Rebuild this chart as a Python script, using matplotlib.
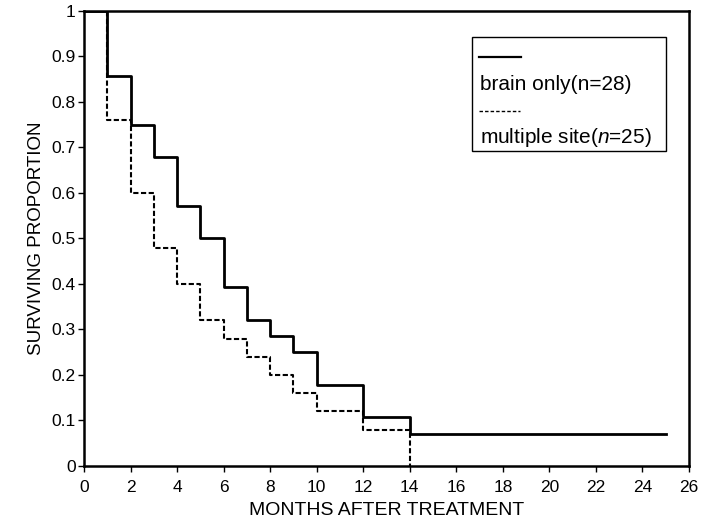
import matplotlib.pyplot as plt
from matplotlib.patches import Rectangle

plt.rcParams['font.family'] = ['Liberation Sans', 'DejaVu Sans']
plt.rcParams['mathtext.fontset'] = 'custom'
plt.rcParams['mathtext.rm'] = 'Liberation Sans'
plt.rcParams['mathtext.it'] = 'Liberation Sans:italic'

# Kaplan-Meier steps
brain_months = [0, 1, 2, 3, 4, 5, 6, 7, 8, 9, 10, 12, 14, 25]
brain_surv = [1.0, 0.857, 0.75, 0.679, 0.571, 0.5, 0.393, 0.321, 0.286, 0.25, 0.179, 0.107, 0.071, 0.071]

multi_months = [0, 1, 2, 3, 4, 5, 6, 7, 8, 9, 10, 12, 14]
multi_surv = [1.0, 0.76, 0.6, 0.48, 0.4, 0.32, 0.28, 0.24, 0.2, 0.16, 0.12, 0.08, 0.0]

brain_label = 'brain only(n=28)'
multi_label = 'multiple site($n$=25)'

x_ticks = list(range(0, 27, 2))
y_ticks = [0, 0.1, 0.2, 0.3, 0.4, 0.5, 0.6, 0.7, 0.8, 0.9, 1]
y_tick_labels = ['0', '0.1', '0.2', '0.3', '0.4', '0.5', '0.6', '0.7', '0.8', '0.9', '1']

fig = plt.figure(figsize=(7.02, 5.18), dpi=100)
ax = fig.add_axes([0.1197, 0.1004, 0.8618, 0.8784])

ax.step(brain_months, brain_surv, where='post', color='black', lw=2.0)
ax.step(multi_months, multi_surv, where='post', color='black', lw=1.5,
        linestyle=(0, (2.5, 1.2)))

ax.set_xlim(0, 26)
ax.set_ylim(0, 1)
ax.set_xticks(x_ticks)
ax.set_yticks(y_ticks)
ax.set_yticklabels(y_tick_labels)
ax.tick_params(direction='out', length=4, width=1, labelsize=12.5, colors='black')
ax.tick_params(axis='x', pad=6)
ax.tick_params(axis='y', pad=2)
for s in ax.spines.values():
    s.set_linewidth(1.8)

ax.set_xlabel('MONTHS AFTER TREATMENT', fontsize=14, labelpad=5)
ax.set_ylabel('SURVIVING PROPORTION', fontsize=13.5, labelpad=5)

# hand-made legend: line sample above each label
ax.add_patch(Rectangle((0.641, 0.692), 0.321, 0.251, transform=ax.transAxes,
                       fill=False, edgecolor='black', lw=1.0))
ax.plot([0.653, 0.722], [0.899, 0.899], transform=ax.transAxes, color='black', lw=1.6)
ax.text(0.655, 0.826, brain_label, transform=ax.transAxes, fontsize=15, va='baseline')
ax.plot([0.653, 0.720], [0.78, 0.78], transform=ax.transAxes, color='black', lw=1.0,
        linestyle=(0, (2.5, 1.5)))
ax.text(0.655, 0.710, multi_label, transform=ax.transAxes, fontsize=15, va='baseline')

fig.savefig('out.png', dpi=100)
